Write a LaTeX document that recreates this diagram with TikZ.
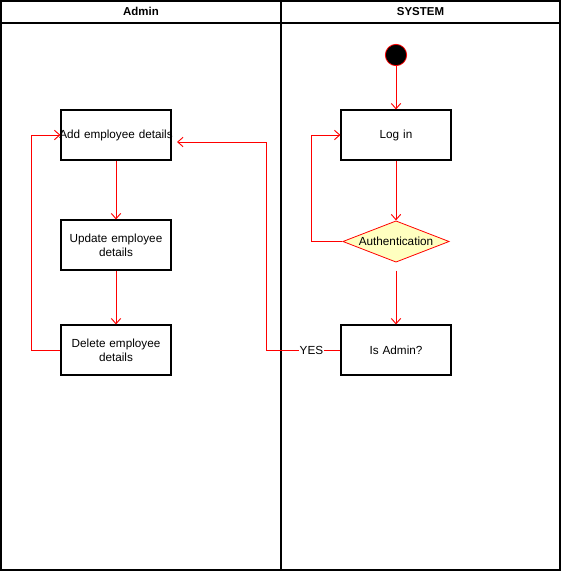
\documentclass[tikz,border=0pt]{standalone}
\usepackage{fontspec}
\setmainfont{Liberation Sans}
\usetikzlibrary{arrows.meta,shapes.geometric}

\definecolor{lightyellow}{HTML}{FFFFC0}

\tikzset{
	lane/.style={draw=black,line width=0.9pt},
	lanetitle/.style={font=\fontsize{8.6}{10}\selectfont\bfseries,text height=6.5pt,text depth=1.5pt},
	activity/.style={draw=black,line width=0.8pt,minimum width=82.5pt,minimum height=37.5pt,
		align=center,inner sep=0.75pt,text width=81pt,font=\fontsize{8.8}{10.5}\selectfont},
	decision/.style={diamond,draw=red,fill=lightyellow,line width=0.6pt,aspect=2.6,
		inner sep=1pt,minimum width=79.5pt,minimum height=31pt,font=\fontsize{8.8}{10}\selectfont},
	startnode/.style={circle,draw=red,fill=black,line width=0.6pt,minimum size=16pt,inner sep=0pt},
	flow/.style={draw=red,line width=0.7pt,-{Straight Barb[length=4pt,width=7pt]}},
	flowlabel/.style={fill=white,inner sep=0.5pt,font=\fontsize{8.8}{10}\selectfont}
}

\begin{document}
\begin{tikzpicture}[x=0.75pt,y=-0.75pt]
\useasboundingbox (0,0) rectangle (561,571);
		% swimlanes
		\draw[lane] (1,1) rectangle (281,570);
		\draw[lane] (281,1) rectangle (560,570);
		\draw[lane] (1,23) -- (560,23);
		\node[lanetitle] (adminlane) at (141,12) {Admin};
		\node[lanetitle] (systemlane) at (420.5,12) {SYSTEM};
		% SYSTEM lane
		\node[startnode] (start) at (396,55) {};
		\node[activity] (login) at (396,135) {Log in};
		\node[decision] (auth) at (396,241.5) {Authentication};
		\node[activity] (isadmin) at (396,350) {Is Admin?};
		% Admin lane
		\node[activity] (add) at (116,135) {\makebox[81pt]{Add employee details}};
		\node[activity] (update) at (116,245) {Update employee\\details};
		\node[activity] (delete) at (116,350) {Delete employee\\details};
		\coordinate (addin) at (177,142);
		% connectors
		\draw[flow] (start) -- (login);
		\draw[flow] (login) -- (auth);
		\draw[flow] (auth.west) -| (311,135) -- (login.west);
		\draw[flow,shorten <=6pt] (auth) -- (isadmin);
		\draw[flow] (isadmin.west) -- (266,350) node[flowlabel,pos=0.39] (yes) {YES} |- (addin);
		\draw[flow] (add) -- (update);
		\draw[flow] (update) -- (delete);
		\draw[flow] (delete.west) -| (31,135) -- (add.west);
\end{tikzpicture}
\end{document}
